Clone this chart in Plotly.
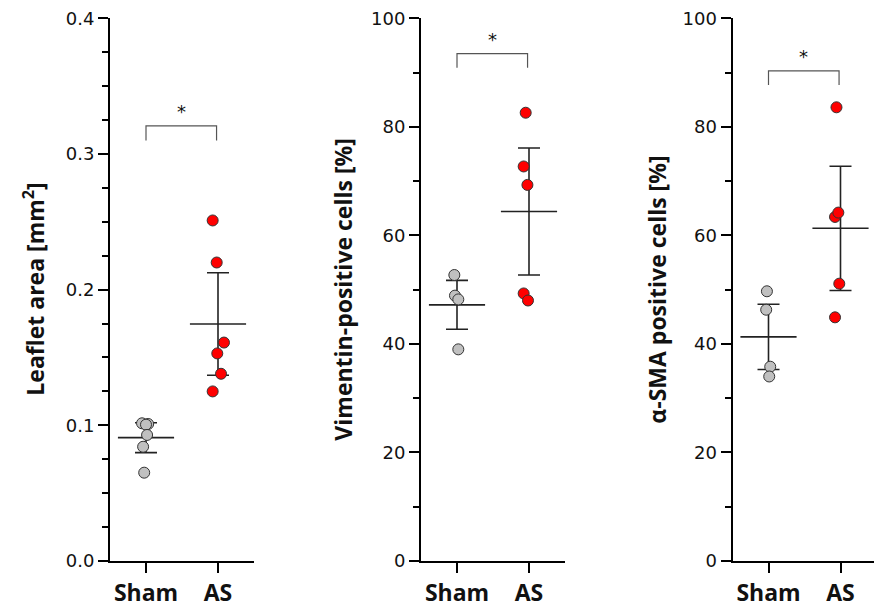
import plotly.graph_objects as go

# ---------------- data ----------------
categories = ["Sham", "AS"]

# Panel 1: Leaflet area [mm^2]
leaf_sham = [0.1015, 0.1010, 0.1005, 0.0929, 0.0842, 0.0651]
leaf_as = [0.251, 0.220, 0.161, 0.153, 0.138, 0.125]
leaf_mean = [0.0909, 0.1747]
leaf_sd = [0.0110, 0.0378]

# Panel 2: Vimentin-positive cells [%]
vim_sham = [52.7, 48.9, 48.2, 39.0]
vim_as = [82.6, 72.7, 69.3, 49.3, 48.0]
vim_mean = [47.2, 64.4]
vim_sd = [4.5, 11.7]

# Panel 3: alpha-SMA positive cells [%]
sma_sham = [49.7, 46.3, 35.8, 34.0]
sma_as = [83.6, 63.4, 64.2, 51.1, 44.9]
sma_mean = [41.3, 61.3]
sma_sd = [6.0, 11.45]

# significance brackets: (bar level, leg bottom)
brackets = [(0.3207, 0.310), (93.5, 90.9), (90.3, 87.7)]

titles = ["Leaflet area [mm<sup>2</sup>]", "Vimentin-positive cells [%]", "α-SMA positive cells [%]"]
y_ranges = [[0, 0.4], [0, 100], [0, 100]]
y_dticks = [0.1, 20, 20]
y_minor = [0.025, 10, 10]
y_formats = [".1f", "d", "d"]

# horizontal jitter of points (category units)
jit_leaf_sham = [-0.055, 0.03, 0.0, 0.015, -0.04, -0.025]
jit_leaf_as = [-0.074, -0.018, 0.083, -0.01, 0.042, -0.074]
jit_vim_sham = [-0.037, -0.028, 0.018, 0.018]
jit_vim_as = [-0.046, -0.074, -0.022, -0.074, -0.014]
jit_sma_sham = [-0.022, -0.032, 0.024, 0.01]
jit_sma_as = [-0.056, -0.076, -0.03, -0.017, -0.076]

panels = [
    (leaf_sham, leaf_as, leaf_mean, leaf_sd, jit_leaf_sham, jit_leaf_as),
    (vim_sham, vim_as, vim_mean, vim_sd, jit_vim_sham, jit_vim_as),
    (sma_sham, sma_as, sma_mean, sma_sd, jit_sma_sham, jit_sma_as),
]

# ---------------- layout geometry (page pixels; page body has an 8px offset) ----------------
W, H = 882, 607
OFF = 8
x_px = [(110 - OFF, 254 - OFF), (421 - OFF, 565 - OFF), (732.5 - OFF, 876.5 - OFF)]
y_top_px, y_bot_px = 18.3 - OFF, 561 - OFF
title_x_px = [34 - OFF, 343 - OFF, 657 - OFF]

GRAY = "#c0c0c0"
RED = "#ff0000"
LINE = "#222222"

fig = go.Figure()
layout_axes = {}
annotations = []
shapes = []

for i, (sham, asg, mean, sd, jsham, jas) in enumerate(panels):
    n = "" if i == 0 else str(i + 1)
    xa, ya = "x" + n, "y" + n
    # mean + SD (error bars)
    fig.add_trace(go.Scatter(
        x=[0, 1], y=mean, xaxis=xa, yaxis=ya, mode="markers",
        marker=dict(size=1, color="rgba(0,0,0,0)"),
        error_y=dict(type="data", array=sd, visible=True, color=LINE, thickness=1.6, width=11),
        showlegend=False, hoverinfo="skip"))
    # mean lines
    mx, my = [], []
    for c, m in enumerate(mean):
        mx += [c - 0.39, c + 0.39, None]
        my += [m, m, None]
    fig.add_trace(go.Scatter(x=mx, y=my, xaxis=xa, yaxis=ya, mode="lines",
                             line=dict(color=LINE, width=1.6), showlegend=False, hoverinfo="skip"))
    # points
    fig.add_trace(go.Scatter(
        x=[0 + j for j in jsham], y=sham, xaxis=xa, yaxis=ya, mode="markers",
        marker=dict(size=11, color=GRAY, line=dict(color="#333333", width=1)),
        showlegend=False, cliponaxis=False))
    fig.add_trace(go.Scatter(
        x=[1 + j for j in jas], y=asg, xaxis=xa, yaxis=ya, mode="markers",
        marker=dict(size=11, color=RED, line=dict(color="#333333", width=1)),
        showlegend=False, cliponaxis=False))

    x0, x1 = x_px[i]
    layout_axes["xaxis" + n] = dict(
        domain=[x0 / W, x1 / W], anchor=ya, range=[-0.5, 1.5], automargin=False,
        tickmode="array", tickvals=[0, 1], ticktext=categories,
        showline=True, linecolor="black", linewidth=2,
        ticks="outside", ticklen=10, tickwidth=2, tickcolor="black",
        tickfont=dict(family="Open Sans", size=23, color="#111111", weight="bold"),
        ticklabeloverflow="allow",
        showgrid=False, zeroline=False, fixedrange=True)
    layout_axes["yaxis" + n] = dict(
        domain=[1 - y_bot_px / H, 1 - y_top_px / H], anchor=xa, range=y_ranges[i],
        automargin=False, ticklabeloverflow="allow",
        dtick=y_dticks[i], tick0=0, tickformat=y_formats[i],
        showline=True, linecolor="black", linewidth=2,
        ticks="outside", ticklen=10, tickwidth=2, tickcolor="black",
        minor=dict(dtick=y_minor[i], ticks="outside", ticklen=6, tickwidth=2, tickcolor="black", showgrid=False),
        tickfont=dict(family="DejaVu Sans", size=18, color="#111111"),
        showgrid=False, zeroline=False, fixedrange=True)

    # axis title
    annotations.append(dict(
        text=titles[i], x=title_x_px[i] / W, y=1 - (y_top_px + y_bot_px) / 2 / H,
        xref="paper", yref="paper", showarrow=False, textangle=-90,
        xanchor="center", yanchor="middle",
        font=dict(family="Open Sans", size=23, color="#111111", weight="bold")))

    # significance bracket
    top, leg = brackets[i]
    shapes.append(dict(type="path", xref=xa, yref=ya,
                       path=f"M 0,{leg} L 0,{top} L 0.98,{top} L 0.98,{leg}",
                       line=dict(color="#555555", width=1.2)))
    annotations.append(dict(
        text="*", x=0.49, y=top, xref=xa, yref=ya, showarrow=False,
        xanchor="center", yanchor="bottom", yshift=2,
        font=dict(family="DejaVu Sans", size=18, color="#111111")))

fig.update_layout(
    width=W, height=H, margin=dict(l=0, r=0, t=0, b=0, autoexpand=False),
    paper_bgcolor="white", plot_bgcolor="white",
    annotations=annotations, shapes=shapes, showlegend=False,
    **layout_axes)

fig.write_html("out.html")
